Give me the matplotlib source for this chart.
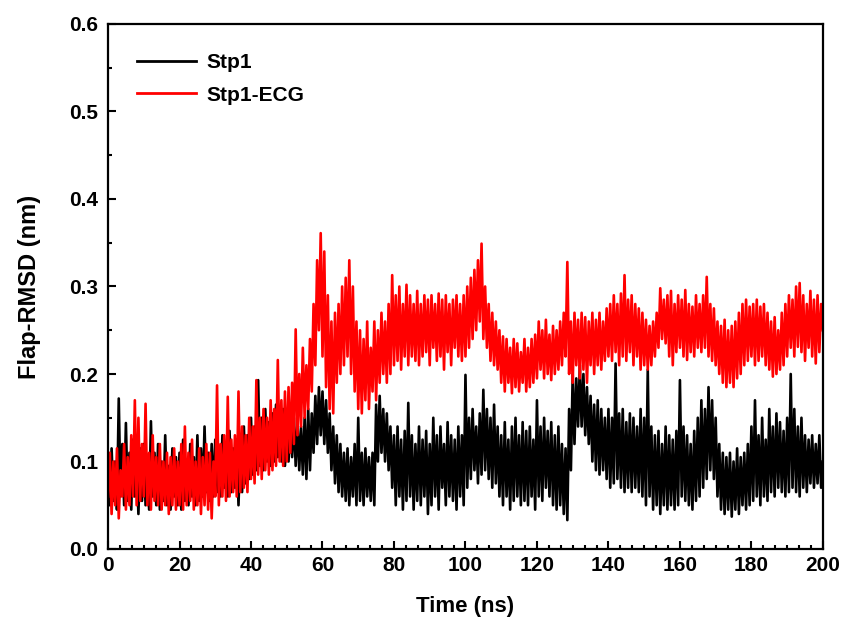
import numpy as np
import matplotlib
matplotlib.use('Agg')
from matplotlib import pyplot as plt
from matplotlib.ticker import MultipleLocator

# Flap-RMSD (nm), one value every 0.5 ns from 0 to 200 ns
stp1 = [
    0.085, 0.05, 0.115, 0.055, 0.10, 0.045, 0.172, 0.06, 0.12, 0.05, 0.144, 0.055, 0.11, 0.045, 0.125, 0.06, 0.10, 0.04, 0.115, 0.055,
    0.12, 0.05, 0.105, 0.045, 0.146, 0.06, 0.11, 0.05, 0.12, 0.045, 0.10, 0.055, 0.13, 0.05, 0.095, 0.045, 0.115, 0.06, 0.105, 0.05,
    0.11, 0.045, 0.125, 0.055, 0.10, 0.05, 0.12, 0.06, 0.105, 0.05, 0.13, 0.055, 0.115, 0.06, 0.14, 0.065, 0.11, 0.055, 0.12, 0.06,
    0.125, 0.065, 0.11, 0.06, 0.13, 0.07, 0.12, 0.06, 0.135, 0.065, 0.115, 0.07, 0.125, 0.05, 0.12, 0.065, 0.14, 0.075, 0.13, 0.08,
    0.15, 0.085, 0.14, 0.09, 0.193, 0.095, 0.15, 0.09, 0.16, 0.10, 0.145, 0.095, 0.155, 0.10, 0.165, 0.105, 0.15, 0.10, 0.16, 0.095,
    0.15, 0.10, 0.16, 0.105, 0.15, 0.095, 0.145, 0.09, 0.14, 0.085, 0.15, 0.08, 0.16, 0.09, 0.155, 0.11, 0.175, 0.12, 0.185, 0.13,
    0.18, 0.12, 0.17, 0.11, 0.155, 0.09, 0.14, 0.075, 0.13, 0.065, 0.12, 0.06, 0.11, 0.055, 0.115, 0.05, 0.105, 0.06, 0.12, 0.05,
    0.15, 0.055, 0.11, 0.05, 0.115, 0.06, 0.105, 0.055, 0.11, 0.05, 0.165, 0.10, 0.175, 0.11, 0.16, 0.10, 0.155, 0.09, 0.14, 0.07,
    0.13, 0.05, 0.14, 0.06, 0.125, 0.045, 0.135, 0.055, 0.167, 0.06, 0.13, 0.045, 0.12, 0.055, 0.14, 0.05, 0.125, 0.06, 0.135, 0.04,
    0.12, 0.05, 0.15, 0.06, 0.13, 0.045, 0.14, 0.07, 0.12, 0.05, 0.145, 0.06, 0.13, 0.055, 0.125, 0.045, 0.14, 0.06, 0.13, 0.05,
    0.199, 0.07, 0.15, 0.08, 0.16, 0.09, 0.14, 0.075, 0.155, 0.085, 0.182, 0.09, 0.16, 0.08, 0.15, 0.07, 0.165, 0.075, 0.14, 0.06,
    0.13, 0.05, 0.145, 0.06, 0.125, 0.045, 0.14, 0.055, 0.15, 0.06, 0.13, 0.05, 0.145, 0.055, 0.135, 0.05, 0.14, 0.06, 0.125, 0.045,
    0.17, 0.06, 0.14, 0.055, 0.15, 0.07, 0.135, 0.06, 0.145, 0.05, 0.13, 0.045, 0.14, 0.05, 0.12, 0.04, 0.115, 0.033, 0.16, 0.09,
    0.20, 0.12, 0.195, 0.14, 0.21, 0.14, 0.20, 0.13, 0.185, 0.12, 0.175, 0.10, 0.165, 0.09, 0.17, 0.085, 0.16, 0.09, 0.15, 0.08,
    0.16, 0.07, 0.15, 0.075, 0.212, 0.08, 0.155, 0.07, 0.16, 0.065, 0.145, 0.07, 0.155, 0.065, 0.15, 0.07, 0.14, 0.065, 0.16, 0.06,
    0.15, 0.05, 0.205, 0.06, 0.14, 0.045, 0.13, 0.05, 0.135, 0.04, 0.12, 0.05, 0.14, 0.045, 0.13, 0.05, 0.125, 0.045, 0.135, 0.05,
    0.193, 0.06, 0.14, 0.055, 0.13, 0.05, 0.12, 0.045, 0.135, 0.055, 0.15, 0.06, 0.17, 0.07, 0.16, 0.08, 0.185, 0.09, 0.17, 0.08,
    0.15, 0.06, 0.12, 0.045, 0.11, 0.04, 0.105, 0.045, 0.11, 0.037, 0.10, 0.045, 0.115, 0.04, 0.105, 0.05, 0.11, 0.045, 0.12, 0.05,
    0.14, 0.055, 0.17, 0.06, 0.13, 0.05, 0.15, 0.06, 0.125, 0.055, 0.16, 0.065, 0.14, 0.06, 0.155, 0.07, 0.145, 0.065, 0.135, 0.06,
    0.15, 0.065, 0.20, 0.07, 0.16, 0.065, 0.14, 0.06, 0.15, 0.07, 0.13, 0.065, 0.125, 0.075, 0.13, 0.07, 0.12, 0.075, 0.13, 0.07,
    0.10,
]

stp1_ecg = [
    0.06, 0.11, 0.04, 0.10, 0.05, 0.115, 0.035, 0.09, 0.06, 0.12, 0.045, 0.105, 0.05, 0.13, 0.06, 0.17, 0.05, 0.15, 0.055, 0.12,
    0.06, 0.166, 0.05, 0.11, 0.045, 0.13, 0.055, 0.105, 0.05, 0.12, 0.045, 0.10, 0.05, 0.11, 0.04, 0.105, 0.05, 0.115, 0.045, 0.10,
    0.05, 0.12, 0.045, 0.14, 0.05, 0.11, 0.055, 0.125, 0.045, 0.10, 0.05, 0.115, 0.04, 0.105, 0.05, 0.12, 0.045, 0.11, 0.035, 0.10,
    0.06, 0.187, 0.05, 0.12, 0.06, 0.13, 0.055, 0.174, 0.06, 0.125, 0.065, 0.13, 0.06, 0.18, 0.065, 0.14, 0.07, 0.13, 0.065, 0.15,
    0.08, 0.14, 0.075, 0.193, 0.085, 0.15, 0.08, 0.16, 0.09, 0.15, 0.085, 0.17, 0.09, 0.16, 0.095, 0.216, 0.10, 0.17, 0.095, 0.18,
    0.10, 0.185, 0.11, 0.19, 0.12, 0.251, 0.13, 0.20, 0.14, 0.23, 0.15, 0.21, 0.16, 0.24, 0.18, 0.28, 0.21, 0.33, 0.25, 0.361,
    0.22, 0.34, 0.185, 0.29, 0.16, 0.26, 0.155, 0.27, 0.19, 0.28, 0.20, 0.30, 0.21, 0.31, 0.22, 0.33, 0.20, 0.30, 0.18, 0.26,
    0.16, 0.25, 0.155, 0.24, 0.17, 0.26, 0.16, 0.23, 0.18, 0.26, 0.17, 0.25, 0.19, 0.27, 0.20, 0.26, 0.19, 0.28, 0.20, 0.313,
    0.21, 0.29, 0.215, 0.30, 0.205, 0.28, 0.22, 0.302, 0.21, 0.29, 0.22, 0.28, 0.215, 0.295, 0.21, 0.28, 0.22, 0.29, 0.225, 0.285,
    0.21, 0.29, 0.23, 0.28, 0.215, 0.292, 0.22, 0.285, 0.205, 0.29, 0.225, 0.28, 0.21, 0.285, 0.23, 0.29, 0.22, 0.28, 0.215, 0.29,
    0.22, 0.30, 0.23, 0.31, 0.24, 0.319, 0.25, 0.33, 0.26, 0.349, 0.24, 0.30, 0.23, 0.28, 0.215, 0.27, 0.21, 0.26, 0.205, 0.25,
    0.19, 0.243, 0.18, 0.24, 0.19, 0.23, 0.178, 0.24, 0.185, 0.235, 0.18, 0.225, 0.19, 0.24, 0.18, 0.23, 0.185, 0.24, 0.19, 0.245,
    0.195, 0.26, 0.205, 0.25, 0.195, 0.262, 0.20, 0.245, 0.193, 0.255, 0.20, 0.25, 0.205, 0.26, 0.21, 0.27, 0.22, 0.328, 0.20, 0.26,
    0.19, 0.27, 0.21, 0.262, 0.195, 0.27, 0.205, 0.265, 0.19, 0.26, 0.21, 0.27, 0.20, 0.262, 0.21, 0.27, 0.205, 0.26, 0.215, 0.275,
    0.22, 0.28, 0.215, 0.29, 0.225, 0.28, 0.21, 0.292, 0.22, 0.313, 0.215, 0.285, 0.225, 0.29, 0.21, 0.28, 0.22, 0.275, 0.205, 0.27,
    0.21, 0.262, 0.205, 0.255, 0.21, 0.26, 0.22, 0.27, 0.23, 0.298, 0.24, 0.285, 0.235, 0.29, 0.22, 0.295, 0.21, 0.28, 0.225, 0.29,
    0.23, 0.285, 0.22, 0.296, 0.216, 0.28, 0.225, 0.277, 0.22, 0.29, 0.23, 0.28, 0.225, 0.29, 0.23, 0.311, 0.22, 0.28, 0.215, 0.275,
    0.21, 0.26, 0.20, 0.255, 0.19, 0.262, 0.185, 0.25, 0.19, 0.255, 0.185, 0.26, 0.195, 0.27, 0.20, 0.28, 0.21, 0.285, 0.215, 0.277,
    0.22, 0.28, 0.21, 0.285, 0.215, 0.277, 0.22, 0.28, 0.21, 0.27, 0.205, 0.26, 0.197, 0.265, 0.20, 0.25, 0.205, 0.27, 0.21, 0.28,
    0.22, 0.29, 0.23, 0.285, 0.22, 0.30, 0.231, 0.304, 0.225, 0.29, 0.215, 0.28, 0.23, 0.295, 0.22, 0.285, 0.212, 0.29, 0.225, 0.28,
    0.25,
]

t_start, t_end = 0, 200
time = np.linspace(t_start, t_end, len(stp1))

plt.rcParams['font.family'] = ['Liberation Sans', 'DejaVu Sans']
plt.rcParams['font.weight'] = 'bold'

fig = plt.figure(figsize=(8.44, 6.25), dpi=100)
ax = fig.add_axes([0.128, 0.1216, 0.847, 0.84])

ax.plot(time, stp1, color='black', lw=1.9, label='Stp1')
ax.plot(time, stp1_ecg, color='#ff0000', lw=1.9, label='Stp1-ECG')

ax.set_xlim(0, 200)
ax.set_ylim(0, 0.6)
ax.xaxis.set_major_locator(MultipleLocator(20))
ax.xaxis.set_minor_locator(MultipleLocator(20 / 6))
ax.yaxis.set_major_locator(MultipleLocator(0.1))
ax.yaxis.set_minor_locator(MultipleLocator(0.05))
ax.tick_params(which='both', direction='in', width=1.5, labelsize=15)
ax.tick_params(which='major', length=6)
ax.tick_params(which='minor', length=3)
ax.tick_params(axis='y', pad=7)
ax.tick_params(axis='x', pad=5)
for lab in ax.get_xticklabels() + ax.get_yticklabels():
    lab.set_fontweight('bold')
for s in ax.spines.values():
    s.set_linewidth(1.6)

ax.set_xlabel('Time (ns)', fontsize=16, fontweight='bold', labelpad=15)
ax.set_ylabel('Flap-RMSD (nm)', fontsize=17, fontweight='bold', labelpad=20)

leg = ax.legend(loc='upper left', frameon=False, fontsize=15, handlelength=2.8,
                handletextpad=0.5, labelspacing=0.65, borderaxespad=1.0)
for h in leg.get_lines():
    h.set_linewidth(2)

fig.savefig('out.png', dpi=100)
